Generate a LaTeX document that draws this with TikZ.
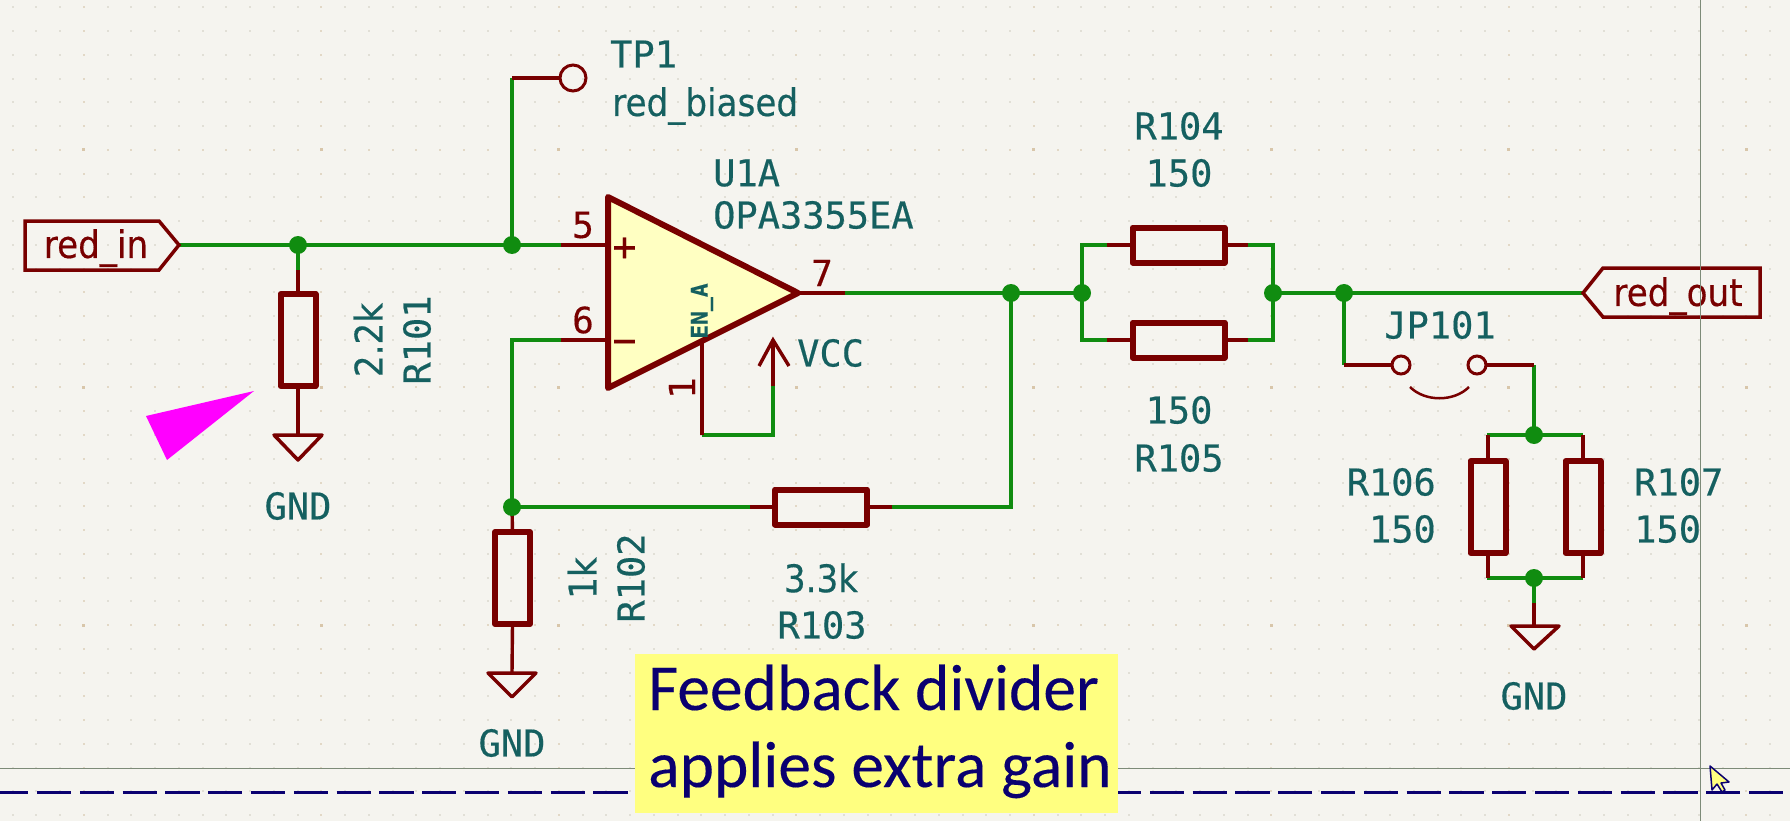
\documentclass[tikz,border=0pt]{standalone}
\usepackage{fontspec}
\newfontfamily\capfont[FakeStretch=1.0,FakeBold=0.4]{DejaVu Sans Mono}
\newfontfamily\lowfont[FakeStretch=0.9,FakeBold=0.4]{DejaVu Sans}
\newfontfamily\notefont[FakeBold=0.2]{Carlito}
\definecolor{sheet}{HTML}{F5F4EF}
\definecolor{wirecol}{HTML}{108C10}
\definecolor{symcol}{HTML}{780000}
\definecolor{refcol}{HTML}{156060}
\definecolor{symfill}{HTML}{FFFFC2}
\definecolor{notefill}{HTML}{FFFF80}
\definecolor{notetext}{HTML}{0A0070}
\definecolor{crosscol}{HTML}{7D8B78}
\definecolor{minordot}{HTML}{E1DFD6}
\definecolor{majordot}{HTML}{E2D8C6}
\definecolor{crossdot}{HTML}{D8C6AA}
\definecolor{pointercol}{HTML}{FF00FF}
\tikzset{
  wire/.style={draw=wirecol, line width=3.4pt},
  pinline/.style={draw=symcol, line width=3.4pt},
  resbody/.style={draw=symcol, line width=6pt, line join=round, inner sep=0pt, outer sep=0pt},
  resh/.style={resbody, minimum width=92pt, minimum height=35pt},
  resv/.style={resbody, minimum width=35pt, minimum height=92pt},
  junc/.style={fill=wirecol, circle, inner sep=0pt, minimum size=18pt},
  gndsym/.style={draw=symcol, line width=3.5pt, line join=round},
  reflabel/.style={text=refcol, font=\fontsize{37}{37}\capfont, inner sep=0pt},
  vallabel/.style={text=refcol, font=\fontsize{38}{38}\lowfont, inner sep=0pt},
  pinlabel/.style={text=symcol, font=\fontsize{36}{36}\capfont, inner sep=0pt},
  netlabel/.style={text=symcol, font=\fontsize{38}{38}\lowfont, inner sep=0pt},
  testpad/.style={draw=symcol, line width=3pt, circle, inner sep=0pt, outer sep=0pt},
}
\begin{document}
\begin{tikzpicture}[x=1pt, y=-1pt]
\useasboundingbox (0, 0) rectangle (1790, 821);
\fill [sheet] (0, 0) rectangle (1790, 821);
% grid
\foreach \col in {0,...,74} {
  \foreach \row in {0,...,34} {
    \pgfmathtruncatemacro\colmod{mod(\col, 10)}
    \pgfmathtruncatemacro\rowmod{mod(\row, 10)}
    \ifnum\colmod=3
      \ifnum\rowmod=6
        \fill [crossdot] (12.6 + 23.75 * \col - 1.5, 7.3 + 23.76 * \row - 1.5) rectangle ++(3, 3);
      \else
        \fill [majordot] (12.6 + 23.75 * \col - 1, 7.3 + 23.76 * \row - 1) rectangle ++(2, 2);
      \fi
    \else
      \ifnum\rowmod=6
        \fill [majordot] (12.6 + 23.75 * \col - 1, 7.3 + 23.76 * \row - 1) rectangle ++(2, 2);
      \else
        \fill [minordot] (12.6 + 23.75 * \col - 1, 7.3 + 23.76 * \row - 1) rectangle ++(2, 2);
      \fi
    \fi
  }
}
% crosshair and page border
\draw [crosscol, line width=1pt] (0, 768) -- (1790, 768);
\draw [notetext, line width=3pt, dash pattern=on 34.2pt off 8.6pt, dash phase=5.8pt] (0, 792) -- (1784, 792);

% junctions
\coordinate (tipin) at (179, 245);
\coordinate (jin) at (298, 245);
\coordinate (jplus) at (512, 245);
\coordinate (jminus) at (512, 507);
\coordinate (jout) at (1011, 293);
\coordinate (jleft) at (1082, 293);
\coordinate (jright) at (1273, 293);
\coordinate (jjump) at (1344, 293);
\coordinate (tipout) at (1583, 293);
\coordinate (jtop) at (1534, 435);
\coordinate (jbot) at (1534, 578);

% resistors
\node [resv] (R101) at (298, 340) {};
\node [resv] (R102) at (512.5, 578) {};
\node [resh] (R103) at (821, 507) {};
\node [resh] (R104) at (1178.5, 245) {};
\node [resh] (R105) at (1178.5, 340) {};
\node [resv] (R106) at (1488, 507) {};
\node [resv] (R107) at (1583, 507) {};

% wires
\draw [wire] (tipin) -- (jplus) -- (561, 245);
\draw [wire] (jin) -- (298, 270);
\draw [wire] (jplus) -- (512, 78);
\draw [wire] (561, 340) -- (512, 340) -- (jminus) -- (750, 507);
\draw [wire] (892, 507) -- (1011, 507) -- (jout);
\draw [wire] (845, 293) -- (jleft);
\draw [wire] (jright) -- (tipout);
\draw [wire] (1107, 245) -- (1082, 245) -- (1082, 340) -- (1107, 340);
\draw [wire] (1248, 245) -- (1273, 245) -- (1273, 340) -- (1248, 340);
\draw [wire] (jjump) -- (1344, 365);
\draw [wire] (1534, 365) -- (jtop);
\draw [wire] (1487, 435) -- (1583, 435);
\draw [wire] (1487, 578) -- (1583, 578);
\draw [wire] (jbot) -- (1534, 603);
\draw [wire] (702, 435) -- (773, 435) -- (773, 386);

% pins
\draw [pinline] (298, 270) -- (R101.north);
\draw [pinline] (R101.south) -- (298, 435);
\draw [pinline] (jminus) -- (R102.north);
\draw [pinline] (R102.south) -- (512, 673);
\draw [pinline] (750, 507) -- (R103.west);
\draw [pinline] (R103.east) -- (892, 507);
\draw [pinline] (1107, 245) -- (R104.west);
\draw [pinline] (R104.east) -- (1248, 245);
\draw [pinline] (1107, 340) -- (R105.west);
\draw [pinline] (R105.east) -- (1248, 340);
\draw [pinline] (1488, 435) -- (R106.north);
\draw [pinline] (R106.south) -- (1488, 578);
\draw [pinline] (1583, 435) -- (R107.north);
\draw [pinline] (R107.south) -- (1583, 578);
\draw [pinline] (1534, 603) -- (1534, 626);
\draw [pinline] (561, 245) -- (607, 245);
\draw [pinline] (561, 340) -- (607, 340);
\draw [pinline] (798, 293) -- (845, 293);
\draw [pinline] (702, 340) -- (702, 435);
\draw [pinline] (773, 386) -- (773, 342);
\draw [pinline] (759, 366) -- (773, 340) -- (789, 366);

% op amp
\draw [symcol, fill=symfill, line width=6pt, line join=round] (608, 197) -- (798, 293) -- (608, 388) -- cycle;
\node [text=symcol, inner sep=0pt, font=\fontsize{40}{40}\capfont] (plus) at (624.5, 249) {+};
\node [text=symcol, inner sep=0pt, font=\fontsize{40}{40}\capfont] (minus) at (624.5, 347) {−};
\node [text=refcol, inner sep=0pt, rotate=90, font=\fontsize{23}{23}\capfont\bfseries] (enpin) at (702, 311) {EN\_A};
\node [pinlabel] (pin5) at (583, 225) {5};
\node [pinlabel] (pin6) at (583, 320) {6};
\node [pinlabel] (pin7) at (822, 273) {7};
\node [pinlabel, rotate=90] (pin1) at (682, 388) {1};

% ground symbols
\draw [gndsym] (274, 435) -- (322, 435) -- (298, 460) -- cycle;
\draw [gndsym] (488, 673) -- (536, 673) -- (512, 697) -- cycle;
\draw [gndsym] (1511, 626) -- (1559, 626) -- (1534, 649) -- cycle;

% test point
\node [testpad, minimum size=26pt] (TP1) at (573, 78) {};
\draw [pinline] (512, 78) -- (TP1.west);

% jumper
\node [testpad, minimum size=18pt] (padl) at (1401, 365) {};
\node [testpad, minimum size=18pt] (padr) at (1477, 365) {};
\draw [pinline] (1344, 365) -- (padl.west);
\draw [pinline] (padr.east) -- (1534, 365);
\draw [symcol, line width=2.5pt] (1410, 387) .. controls (1425, 402) and (1454, 402) .. (1469, 387);

% junction dots
\foreach \pos in {jin, jplus, jminus, jout, jleft, jright, jjump, jtop, jbot}
  \node [junc] (dot\pos) at (\pos) {};

% net labels
\draw [symcol, line width=3.5pt, line join=miter] (25, 221) -- (159, 221) -- (tipin) -- (159, 270) -- (25, 270) -- cycle;
\node [netlabel] (redin) at (96, 248) {red\_in};
\draw [symcol, line width=3.5pt, line join=miter] (tipout) -- (1603, 268) -- (1760, 268) -- (1760, 317) -- (1603, 317) -- cycle;
\node [netlabel] (redout) at (1678, 296) {red\_out};

% references and values
\node [reflabel, anchor=west] (tpref) at (610, 54) {TP1};
\node [netlabel, text=refcol, anchor=west] (tpval) at (612, 106) {red\_biased};
\node [reflabel, anchor=west] (uref) at (713, 173) {U1A};
\node [reflabel, anchor=west] (uval) at (713, 215) {OPA3355EA};
\node [reflabel, anchor=west] (vcc) at (797, 353) {VCC};
\node [reflabel] (r4ref) at (1179, 126) {R104};
\node [reflabel] (r4val) at (1179, 173) {150};
\node [reflabel] (r5val) at (1179, 410) {150};
\node [reflabel] (r5ref) at (1179, 458) {R105};
\node [reflabel] (jpref) at (1440, 325) {JP101};
\node [reflabel, anchor=east] (r6ref) at (1436, 482) {R106};
\node [reflabel, anchor=east] (r6val) at (1436, 529) {150};
\node [reflabel, anchor=west] (r7ref) at (1634, 482) {R107};
\node [reflabel, anchor=west] (r7val) at (1634, 529) {150};
\node [reflabel] (gnda) at (298, 506) {GND};
\node [reflabel] (gndb) at (512, 743) {GND};
\node [reflabel] (gndc) at (1534, 696) {GND};
\node [vallabel, rotate=90] (r1val) at (368, 340) {2.2k};
\node [reflabel, rotate=90] (r1ref) at (417, 340) {R101};
\node [vallabel, rotate=90] (r2val) at (582, 578) {1k};
\node [reflabel, rotate=90] (r2ref) at (631, 578) {R102};
\node [vallabel] (r3val) at (821, 578) {3.3k};
\node [reflabel] (r3ref) at (822, 625) {R103};

% pointer
\fill [pointercol] (254, 391) -- (146, 416) -- (167, 460) -- cycle;

% crosshair over symbols
\draw [crosscol, line width=1pt] (1700.4, 0) -- (1700.4, 821);

% note
\node [fill=notefill, inner sep=0pt, minimum width=483pt, minimum height=159pt] (notebox) at (876.5, 733.5) {};
\node [anchor=base west, text=notetext, inner sep=0pt, font=\fontsize{65.5}{65.5}\notefont] (noteone) at (648, 710) {Feedback divider};
\node [anchor=base west, text=notetext, inner sep=0pt, font=\fontsize{65.5}{65.5}\notefont] (notetwo) at (648, 787) {applies extra gain};

% mouse cursor
\draw [notetext, fill=notefill, line width=1.5pt, line join=round] (1710, 766) -- (1712, 790) -- (1717, 784) -- (1722, 792) -- (1725, 790) -- (1721, 783) -- (1729, 782) -- cycle;
\end{tikzpicture}
\end{document}
